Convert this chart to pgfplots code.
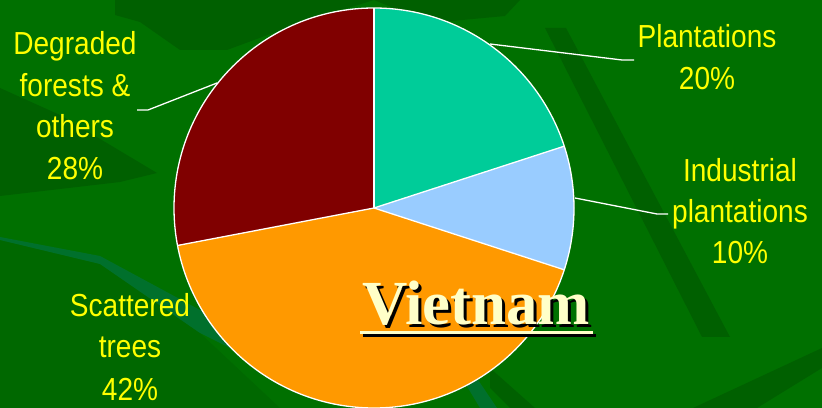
\documentclass[border=0pt]{standalone}
\usepackage{pgfplots}
\pgfplotsset{compat=1.18}
\usepackage{fontspec}
\setmainfont{Liberation Sans}[FakeStretch=0.88]
\newfontfamily\titlefont{Liberation Serif}
\definecolor{bgG}{RGB}{0,112,0}
\definecolor{bgD}{RGB}{0,96,0}
\definecolor{bgM}{RGB}{0,104,0}
\definecolor{bgL}{RGB}{0,112,44}
\definecolor{cPlant}{RGB}{0,204,153}
\definecolor{cInd}{RGB}{153,204,255}
\definecolor{cScat}{RGB}{255,153,0}
\definecolor{cDeg}{RGB}{128,0,0}
\definecolor{labY}{RGB}{255,255,0}
\definecolor{titY}{RGB}{255,255,200}
% values (percent), clockwise from 12 o'clock
\def\vA{20}\def\vB{10}\def\vC{42}\def\vD{28}
\begin{document}
\begin{tikzpicture}
\begin{axis}[
  width=822bp, height=408bp, scale only axis,
  xmin=0, xmax=822, ymin=0, ymax=408,
  hide axis, clip=true,
]
% background
\fill[bgG] (axis cs:0,0) rectangle (axis cs:822,408);
\fill[bgD] (axis cs:545,380) -- (axis cs:566,380) -- (axis cs:730,71) -- (axis cs:702,71) -- cycle;
\fill[bgD] (axis cs:115,408) -- (axis cs:115,393) -- (axis cs:140,386) -- (axis cs:180,358) -- (axis cs:227,358) -- (axis cs:300,385) -- (axis cs:374,408) -- cycle;
\fill[bgD] (axis cs:374,408) -- (axis cs:520,408) -- (axis cs:505,392) -- (axis cs:430,385) -- cycle;
\fill[bgD] (axis cs:0,320) -- (axis cs:60,293) -- (axis cs:157,235) -- (axis cs:120,226) -- (axis cs:0,212) -- cycle;
\fill[bgM] (axis cs:0,168) -- (axis cs:100,144) -- (axis cs:200,75) -- (axis cs:280,0) -- (axis cs:0,0) -- cycle;
\fill[bgL] (axis cs:0,171) -- (axis cs:100,152) -- (axis cs:200,98) -- (axis cs:240,78) -- (axis cs:240,55) -- (axis cs:200,75) -- (axis cs:100,144) -- (axis cs:0,168) -- cycle;
\fill[bgL] (axis cs:470,40) -- (axis cs:497,0) -- (axis cs:480,0) -- (axis cs:462,30) -- cycle;
\fill[bgD] (axis cs:490,40) -- (axis cs:535,0) -- (axis cs:510,0) -- (axis cs:490,20) -- cycle;
\fill[bgD] (axis cs:822,60) -- (axis cs:822,40) -- (axis cs:757,0) -- (axis cs:693,0) -- cycle;
% pie slices
\fill[cPlant] (axis cs:374,200) -- (axis cs:{374+200*cos(90)},{200+200*sin(90)})
   arc[start angle=90, end angle={90-3.6*\vA}, radius=200] -- cycle;
\fill[cInd] (axis cs:374,200) -- (axis cs:{374+200*cos(90-3.6*\vA)},{200+200*sin(90-3.6*\vA)})
   arc[start angle={90-3.6*\vA}, end angle={90-3.6*(\vA+\vB)}, radius=200] -- cycle;
\fill[cScat] (axis cs:374,200) -- (axis cs:{374+200*cos(90-3.6*(\vA+\vB))},{200+200*sin(90-3.6*(\vA+\vB))})
   arc[start angle={90-3.6*(\vA+\vB)}, end angle={90-3.6*(\vA+\vB+\vC)}, radius=200] -- cycle;
\fill[cDeg] (axis cs:374,200) -- (axis cs:{374+200*cos(90-3.6*(\vA+\vB+\vC))},{200+200*sin(90-3.6*(\vA+\vB+\vC))})
   arc[start angle={90-3.6*(\vA+\vB+\vC)}, end angle={90-3.6*(\vA+\vB+\vC+\vD)}, radius=200] -- cycle;
% white edges
\draw[white, line width=1.3bp] (axis cs:374,200) circle[radius=200];
\draw[white, line width=1.3bp] (axis cs:374,200) -- (axis cs:{374+200*cos(90)},{200+200*sin(90)});
\draw[white, line width=1.3bp] (axis cs:374,200) -- (axis cs:{374+200*cos(90-3.6*\vA)},{200+200*sin(90-3.6*\vA)});
\draw[white, line width=1.3bp] (axis cs:374,200) -- (axis cs:{374+200*cos(90-3.6*(\vA+\vB))},{200+200*sin(90-3.6*(\vA+\vB))});
\draw[white, line width=1.3bp] (axis cs:374,200) -- (axis cs:{374+200*cos(90-3.6*(\vA+\vB+\vC))},{200+200*sin(90-3.6*(\vA+\vB+\vC))});
% leader lines
\draw[white, line width=1.3bp] (axis cs:490,364) -- (axis cs:622,348) -- (axis cs:634,348);
\draw[white, line width=1.3bp] (axis cs:575,210) -- (axis cs:657,194) -- (axis cs:668,194);
\draw[white, line width=1.3bp] (axis cs:217,325) -- (axis cs:148,298) -- (axis cs:137,298);
% labels
\begin{scope}[every node/.style={anchor=base, text=labY, inner sep=0pt, font=\fontsize{32}{40}\selectfont}]
\node at (axis cs:707,360) {Plantations};
\node at (axis cs:707,318) {20\%};
\node at (axis cs:740,226) {Industrial};
\node at (axis cs:740,185) {plantations};
\node at (axis cs:740,144) {10\%};
\node at (axis cs:75,353) {Degraded};
\node at (axis cs:75,311) {forests \&};
\node at (axis cs:75,270) {others};
\node at (axis cs:75,228) {28\%};
\node at (axis cs:130,91) {Scattered};
\node at (axis cs:130,50) {trees};
\node at (axis cs:130,8) {42\%};
\end{scope}
% title with shadow and underline
\fill[black] (axis cs:363,71) rectangle (axis cs:596,74);
\fill[titY] (axis cs:360,74) rectangle (axis cs:593,77);
\node[anchor=base, inner sep=0pt, text=black, font=\titlefont\bfseries\fontsize{63}{70}\selectfont] at (axis cs:479,80) {Vietnam};
\node[anchor=base, inner sep=0pt, text=titY, font=\titlefont\bfseries\fontsize{63}{70}\selectfont] at (axis cs:476,83) {Vietnam};
\end{axis}
\end{tikzpicture}
\end{document}
